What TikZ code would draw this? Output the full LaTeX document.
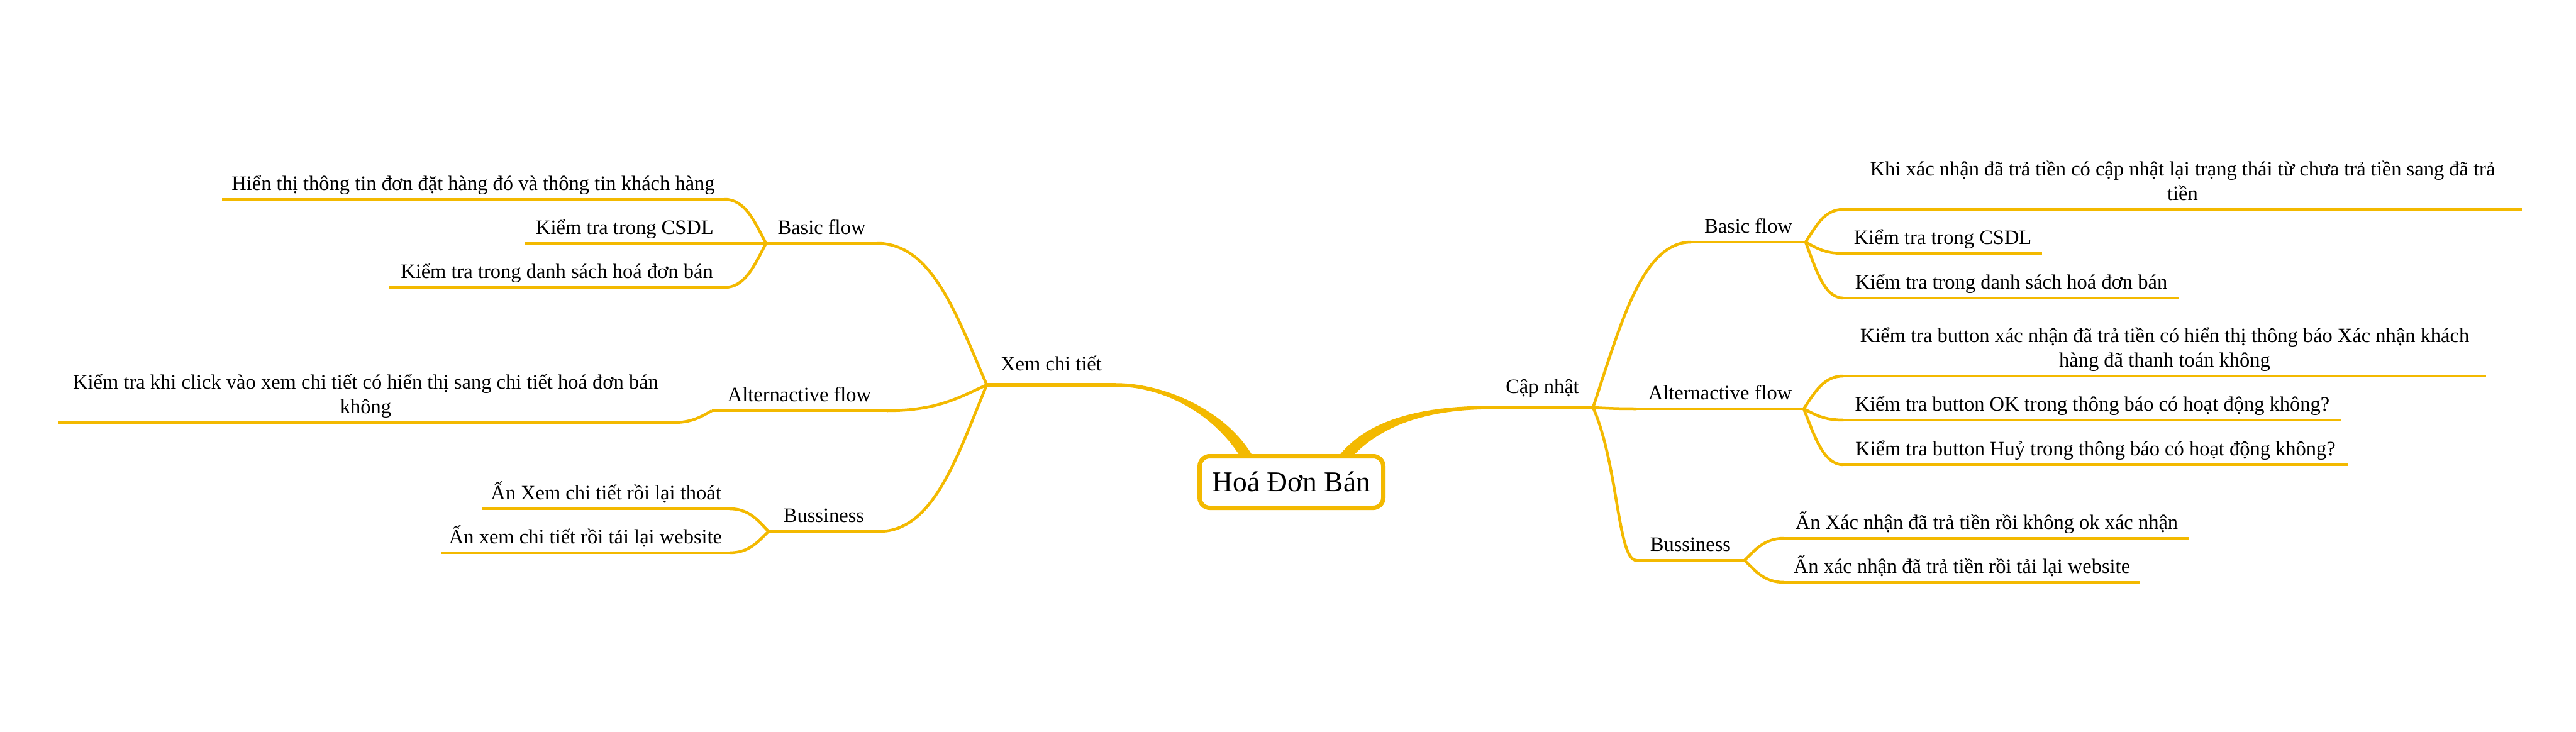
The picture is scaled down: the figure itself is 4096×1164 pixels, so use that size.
\documentclass[tikz,border=0pt]{standalone}
\usepackage{fontspec}
\setmainfont{Liberation Serif}
\usetikzlibrary{calc,backgrounds}
\definecolor{yc}{RGB}{243,185,0}
\begin{document}
\begin{tikzpicture}[x=1pt,y=-1pt,
  txt/.style={font=\fontsize{32.5}{39}\selectfont, inner xsep=0pt, inner ysep=0pt, outer sep=0pt, text depth=15pt},
  leafL/.style={txt, anchor=south east},
  leafR/.style={txt, anchor=south west},
  mainL/.style={txt, anchor=south east, text depth=22.5pt},
  mainR/.style={txt, anchor=south west, text depth=22.5pt},
  hub/.style={draw=yc, line width=7pt, rounded corners=16pt, fill=white, outer sep=0pt,
    minimum width=292pt, minimum height=82pt, inner sep=0pt,
    font=\fontsize{45.5}{54}\selectfont, text height=31pt, text depth=2pt},
  wire/.style={draw=yc, line width=4.5pt},
  mwire/.style={draw=yc, line width=5.5pt},
  link/.style={to path={let \p1=(\tikztostart), \p2=(\tikztotarget) in
     .. controls ({\x1+0.28*(\x2-\x1)},{\y1+0.5*(\y2-\y1)}) and ({\x2-0.5*(\x2-\x1)},\y2) .. (\tikztotarget)}},
  linkB/.style={to path={.. controls +(40,90) and +(-30,0) .. (\tikztotarget)}}
]
\useasboundingbox (0,0) rectangle (4096,1164);

% central topic
\node[hub] (hoa) at (2053.5,766.5) {Hoá Đơn Bán};

% main topics
\node[mainL, minimum width=205pt] (xem) at (1774,612) {Xem chi tiết};
\node[mainR, minimum width=161pt] (cap) at (2372,648) {Cập nhật};

% left sub topics
\node[leafL, minimum width=177pt] (lbf) at (1395,387) {Basic flow};
\node[leafL, minimum width=278pt] (laf) at (1410,653) {Alternactive flow};
\node[leafL, minimum width=176pt] (lbu) at (1398,845) {Bussiness};
% right sub topics
\node[leafR, minimum width=182pt] (rbf) at (2689,385) {Basic flow};
\node[leafR, minimum width=266pt] (raf) at (2602,650) {Alternactive flow};
\node[leafR, minimum width=172pt] (rbu) at (2602,891) {Bussiness};

% left leaves
\node[leafL, minimum width=799pt] (l1) at (1152,317) {Hiển thị thông tin đơn đặt hàng đó và thông tin khách hàng};
\node[leafL, minimum width=317pt] (l2) at (1152,387) {Kiểm tra trong CSDL};
\node[leafL, minimum width=533pt] (l3) at (1152,457) {Kiểm tra trong danh sách hoá đơn bán};
\node[leafL, minimum width=977pt] (la1) at (1070,672) {\begin{tabular}[b]{@{}c@{}}Kiểm tra khi click vào xem chi tiết có hiển thị sang chi tiết hoá đơn bán\\không\end{tabular}};
\node[leafL, minimum width=393pt] (lb1) at (1160,809) {Ấn Xem chi tiết rồi lại thoát};
\node[leafL, minimum width=458pt] (lb2) at (1160,879) {Ấn xem chi tiết rồi tải lại website};

% right leaves
\node[leafR, minimum width=1079pt] (r1) at (2931,333) {\begin{tabular}[b]{@{}c@{}}Khi xác nhận đã trả tiền có cập nhật lại trạng thái từ chưa trả tiền sang đã trả\\tiền\end{tabular}};
\node[leafR, minimum width=316pt] (r2) at (2931,403) {Kiểm tra trong CSDL};
\node[leafR, minimum width=534pt] (r3) at (2931,474) {Kiểm tra trong danh sách hoá đơn bán};
\node[leafR, minimum width=1022pt] (ra1) at (2931,598) {\begin{tabular}[b]{@{}c@{}}Kiểm tra button xác nhận đã trả tiền có hiển thị thông báo Xác nhận khách\\hàng đã thanh toán không\end{tabular}};
\node[leafR, minimum width=792pt] (ra2) at (2931,668) {Kiểm tra button OK trong thông báo có hoạt động không?};
\node[leafR, minimum width=802pt] (ra3) at (2931,739) {Kiểm tra button Huỷ trong thông báo có hoạt động không?};
\node[leafR, minimum width=644pt] (rb1) at (2837,856) {Ấn Xác nhận đã trả tiền rồi không ok xác nhận};
\node[leafR, minimum width=565pt] (rb2) at (2837,926) {Ấn xác nhận đã trả tiền rồi tải lại website};

% tapered main connectors
\begin{pgfonlayer}{background}
\fill[yc] ($(hoa.north)+(-60.5,2)$) .. controls +(-41,-74) and +(78,0) .. ($(xem.south east)+(0,-2.75)$)
  -- ($(xem.south east)+(0,2.75)$) .. controls +(74,0) and +(-45,-72) .. ($(hoa.north)+(-80.5,2)$) -- cycle;
\fill[yc] ($(hoa.north)+(73.5,2)$) .. controls +(48,-64) and +(-102,0) .. ($(cap.south west)+(0,-2.75)$)
  -- ($(cap.south west)+(0,2.75)$) .. controls +(-92,0) and +(51,-56) .. ($(hoa.north)+(95.5,2)$) -- cycle;
\end{pgfonlayer}

% main topic underlines
\draw[mwire] (xem.south west) -- (xem.south east);
\draw[mwire] (cap.south west) -- (cap.south east);

% underlines of sub topics and leaves
\foreach \n in {lbf,laf,lbu,rbf,raf,rbu,l1,l2,l3,la1,lb1,lb2,r1,r2,r3,ra1,ra2,ra3,rb1,rb2}
  \draw[wire] (\n.south west) -- (\n.south east);

% connectors, left
\draw[wire] (xem.south west) to[link] (lbf.south east);
\draw[wire] (xem.south west) to[link] (laf.south east);
\draw[wire] (xem.south west) to[link] (lbu.south east);
\draw[wire] (lbf.south west) to[link] (l1.south east);
\draw[wire] (lbf.south west) to[link] (l2.south east);
\draw[wire] (lbf.south west) to[link] (l3.south east);
\draw[wire] (laf.south west) to[link] (la1.south east);
\draw[wire] (lbu.south west) to[link] (lb1.south east);
\draw[wire] (lbu.south west) to[link] (lb2.south east);

% connectors, right
\draw[wire] (cap.south east) to[link] (rbf.south west);
\draw[wire] (cap.south east) to[link] (raf.south west);
\draw[wire] (cap.south east) to[linkB] (rbu.south west);
\draw[wire] (rbf.south east) to[link] (r1.south west);
\draw[wire] (rbf.south east) to[link] (r2.south west);
\draw[wire] (rbf.south east) to[link] (r3.south west);
\draw[wire] (raf.south east) to[link] (ra1.south west);
\draw[wire] (raf.south east) to[link] (ra2.south west);
\draw[wire] (raf.south east) to[link] (ra3.south west);
\draw[wire] (rbu.south east) to[link] (rb1.south west);
\draw[wire] (rbu.south east) to[link] (rb2.south west);
\end{tikzpicture}
\end{document}
